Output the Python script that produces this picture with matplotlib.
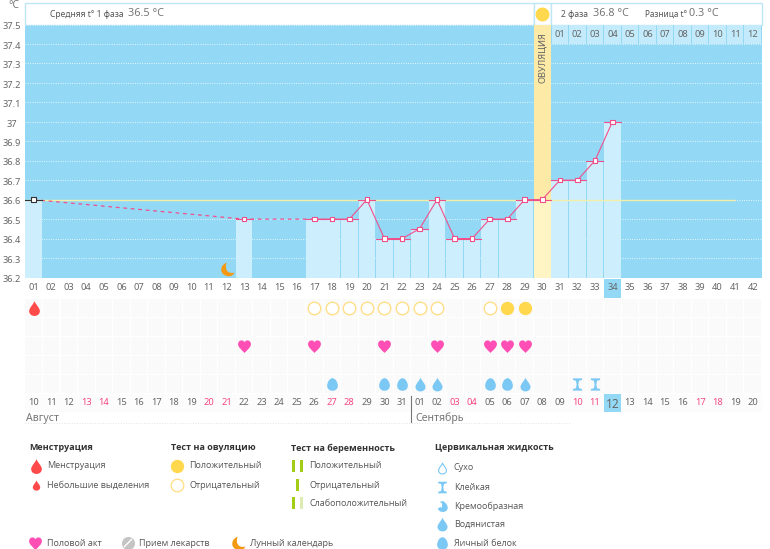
#!/usr/bin/env python3
"""Basal temperature chart with symptom rows and a legend."""

import matplotlib

matplotlib.use("Agg")
import matplotlib.pyplot as plt
from matplotlib.patches import Rectangle
from matplotlib.path import Path

W, H = 770, 549

temp_days = [1, 13, 17, 18, 19, 20, 21, 22, 23, 24, 25, 26, 27, 28, 29, 30, 31, 32, 33, 34]
temp_values = [36.6, 36.5, 36.5, 36.5, 36.5, 36.6, 36.4, 36.4, 36.45, 36.6, 36.4, 36.4,
               36.5, 36.5, 36.6, 36.6, 36.7, 36.7, 36.8, 37.0]
temp_ticks = [37.5, 37.4, 37.3, 37.2, 37.1, 37.0, 36.9, 36.8, 36.7, 36.6, 36.5, 36.4, 36.3, 36.2]
temp_tick_labels = ["37.5", "37.4", "37.3", "37.2", "37.1", "37", "36.9", "36.8", "36.7",
                    "36.6", "36.5", "36.4", "36.3", "36.2"]
cycle_labels = [f"{d:02d}" for d in range(1, 43)]
phase_labels = [f"{d:02d}" for d in range(1, 13)]
date_labels = ["10", "11", "12", "13", "14", "15", "16", "17", "18", "19", "20", "21", "22",
               "23", "24", "25", "26", "27", "28", "29", "30", "31", "01", "02", "03", "04",
               "05", "06", "07", "08", "09", "10", "11", "12", "13", "14", "15", "16", "17",
               "18", "19", "20"]
red_dates = [4, 5, 11, 12, 18, 19, 25, 26, 32, 33, 39, 40]
ovulation_day = 30
today = 34
moon_day = 12

menstruation_days = [1]
test_negative_days = [17, 18, 19, 20, 21, 22, 23, 24, 27]
test_positive_days = [28, 29]
intercourse_days = [13, 17, 21, 24, 27, 28, 29]
eggwhite_days = [18, 21, 22, 27, 28]
watery_days = [23, 24, 29]
sticky_days = [32, 33]

BLUE = "#93d9f6"
BAR = "#cdeefd"
BORDER = "#bfe6f7"
PINK = "#f0508a"
GREY = "#666666"
YELLOW = "#ffd84d"
YELLOW_EDGE = "#ffe08a"
DROP_BLUE = "#7cc8f5"
CHART_FONT = "Noto Sans"
LEGEND_FONT = "Open Sans"
TICK_SIZE = 6.7

C3, C4, L, M, Z = Path.CURVE3, Path.CURVE4, Path.LINETO, Path.MOVETO, Path.CLOSEPOLY

DROP = Path(
    [(0, 1), (0.1, 0.6), (0.72, 0.1), (0.72, -0.35), (0.72, -0.75), (0.38, -1), (0, -1),
     (-0.38, -1), (-0.72, -0.75), (-0.72, -0.35), (-0.72, 0.1), (-0.1, 0.6), (0, 1), (0, 1)],
    [M, C4, C4, C4, C4, C4, C4, C4, C4, C4, C4, C4, C4, Z],
)
HEART = Path(
    [(0, -1), (-0.5, -0.5), (-1, -0.1), (-1, 0.35), (-1, 0.8), (-0.7, 0.95), (-0.45, 0.95),
     (-0.2, 0.95), (0, 0.75), (0, 0.6), (0, 0.75), (0.2, 0.95), (0.45, 0.95), (0.7, 0.95),
     (1, 0.8), (1, 0.35), (1, -0.1), (0.5, -0.5), (0, -1), (0, -1)],
    [M, C4, C4, C4, C4, C4, C4, C4, C4, C4, C4, C4, C4, C4, C4, C4, C4, C4, C4, Z],
)
EGG = Path(
    [(0, 1), (0.5, 1), (0.85, 0.3), (0.85, -0.2), (0.85, -0.7), (0.45, -1), (0, -1),
     (-0.45, -1), (-0.85, -0.7), (-0.85, -0.2), (-0.85, 0.3), (-0.5, 1), (0, 1), (0, 1)],
    [M, C4, C4, C4, C4, C4, C4, C4, C4, C4, C4, C4, C4, Z],
)
HOURGLASS = Path(
    [(-0.75, 1), (0.75, 1), (0.75, 0.75), (0.25, 0.6), (0.14, 0), (0.25, -0.6), (0.75, -0.75),
     (0.75, -1), (-0.75, -1), (-0.75, -0.75), (-0.25, -0.6), (-0.14, 0), (-0.25, 0.6),
     (-0.75, 0.75), (-0.75, 1)],
    [M, L, L, L, L, L, L, L, L, L, L, L, L, L, Z],
)
MOON = Path(
    [(-0.1, 1), (-0.8, 0.8), (-1, 0.2), (-0.9, -0.25), (-0.75, -0.8), (-0.2, -1), (0.2, -1),
     (0.6, -1), (0.9, -0.8), (1, -0.45), (0.5, -0.6), (0.05, -0.45), (-0.15, -0.05),
     (-0.3, 0.35), (-0.25, 0.7), (-0.1, 1), (-0.1, 1)],
    [M, C4, C4, C4, C4, C4, C4, C4, C4, C4, C4, C4, C4, C4, C4, C4, Z],
)
CREAM = Path(
    [(0.1, 1), (0.7, 0.6), (0.95, 0.2), (0.95, -0.25), (0.95, -0.75), (0.5, -1), (0.05, -1),
     (-0.4, -1), (-0.75, -0.75), (-0.85, -0.35), (-0.4, -0.1), (0, -0.1), (-0.2, -0.5),
     (0.1, 0.3), (-0.2, 0.7), (-0.55, 0.85), (0.1, 1)],
    [M, C4, C4, C4, C4, C4, C4, C4, C4, C4, L, C3, C3, C3, C3, L, Z],
)


def px_axes(fig, left, top, right, bottom, **kwargs):
    return fig.add_axes([left / W, 1 - bottom / H, (right - left) / W, (bottom - top) / H], **kwargs)


def chart_text(ax, x, y, text, size=TICK_SIZE, color=GREY, ha="left", **kwargs):
    kwargs.setdefault("family", CHART_FONT)
    ax.text(x, y, text, fontsize=size, color=color, ha=ha, va="center", **kwargs)


def draw_frame(bg):
    left, split_a, split_b, right = 25, 533.5, 551, 761.5
    for x0, x1 in [(left, split_a), (split_a, split_b), (split_b, right)]:
        bg.add_patch(Rectangle((x0, 3), x1 - x0, 22, fc="white", ec=BORDER, lw=1))
    chart_text(bg, 50, 14.5, "Средняя t° 1 фаза", size=6.1, color="#555555")
    chart_text(bg, 128, 14, "36.5 °C", size=7.8, color="#777777")
    chart_text(bg, 561, 14.5, "2 фаза", size=6.1, color="#555555")
    chart_text(bg, 593, 14, "36.8 °C", size=7.8, color="#777777")
    chart_text(bg, 645, 14.5, "Разница t°", size=5.9, color="#555555")
    chart_text(bg, 689, 14, "0.3 °C", size=7.8, color="#777777")
    chart_text(bg, 14, 6, "°C", size=7.4, color="#777777", ha="center")
    bg.scatter([542], [14], s=100, color=YELLOW, lw=0)
    bg.add_patch(Rectangle((25, 394), 736.5, 18, fc="#fcfcfc", ec="none"))
    for top, bottom in [(279, 298), (394, 412)]:
        bg.add_patch(Rectangle((604, top), 17, bottom - top, fc=BLUE, ec="none"))
    chart_text(bg, 26, 418, "Август", size=7.6, color="#777777")
    chart_text(bg, 415, 418, "Сентябрь", size=7.6, color="#777777")
    bg.plot([411, 411], [396, 422], color="#777777", lw=0.8)
    bg.plot([25, 570], [423, 423], color="#e4e4e4", lw=0.7, ls=":")


def draw_temperature(ax):
    ax.set_facecolor(BLUE)
    ax.set_xlim(0.5, 42.5)
    ax.set_ylim(36.2, 37.5)
    for spine in ax.spines.values():
        spine.set_visible(False)
    ax.set_yticks(temp_ticks)
    ax.set_yticklabels([])
    ax.tick_params(axis="y", length=0)
    ax.tick_params(axis="x", length=0, pad=4, labelsize=TICK_SIZE, labelcolor=GREY)
    ax.set_xticks(range(1, 43))
    ax.set_xticklabels(cycle_labels, family=CHART_FONT)
    ax.grid(axis="y", color="white", lw=0.6, ls=(0, (1, 1.8)), zorder=1)
    ax.set_axisbelow(True)

    for value, label in zip(temp_ticks, temp_tick_labels):
        ax.annotate(label, (0.5, value), xytext=(-9.5, -1.6), textcoords="offset points",
                    annotation_clip=False, ha="center", va="center", fontsize=TICK_SIZE,
                    color=GREY, family=CHART_FONT)

    ax.bar(range(31, 43), 0.1, bottom=37.4, width=0.94, color="#c4ebfb", zorder=2)
    for day, label in zip(range(31, 43), phase_labels):
        ax.text(day, 37.45, label, ha="center", va="center", fontsize=TICK_SIZE, color=GREY,
                family=CHART_FONT, zorder=6)

    ax.bar(ovulation_day, 1.3, bottom=36.2, width=1.0, color="#fdeaa6", zorder=2)
    ax.text(ovulation_day, 37.33, "ОВУЛЯЦИЯ", rotation=90, ha="center", va="center",
            fontsize=TICK_SIZE, color=GREY, family=CHART_FONT, zorder=6)

    bar_colors = ["#fff5c4" if d == ovulation_day else BAR for d in temp_days]
    heights = [v - 36.2 for v in temp_values]
    ax.bar(temp_days, heights, bottom=36.2, width=0.95, color=bar_colors, zorder=2)

    ax.hlines(36.6, 0.5, 41, color="#f3efa8", lw=1, zorder=3)

    # dashed across the days with no reading, solid once readings are daily
    ax.plot(temp_days[:3], temp_values[:3], color=PINK, lw=0.9, ls=(0, (3, 3)), zorder=4)
    ax.plot(temp_days[2:], temp_values[2:], color=PINK, lw=0.8, zorder=4)
    seg_colors = ["#333333"] + [PINK] * (len(temp_days) - 1)
    for day, value, color in zip(temp_days, temp_values, seg_colors):
        ax.plot([day - 0.48, day + 0.48], [value, value], color=color, lw=0.8, zorder=4)
    ax.scatter(temp_days, temp_values, marker="s", s=11, facecolor="white",
               edgecolor=seg_colors, lw=0.8, zorder=5)
    ax.scatter([moon_day], [36.245], marker=MOON, s=95, color="#f39a12", lw=0, zorder=5)


def draw_rows(ax):
    ax.patch.set_alpha(0)
    ax.set_xlim(0.5, 42.5)
    ax.set_ylim(4.5, -0.5)
    for spine in ax.spines.values():
        spine.set_visible(False)
    ax.set_yticks([])
    ax.set_xticks(range(1, 43))
    ax.set_xticklabels(date_labels, family=CHART_FONT)
    ax.tick_params(axis="x", length=0, pad=3, labelsize=TICK_SIZE, labelcolor=GREY)
    for index, label in enumerate(ax.get_xticklabels(), start=1):
        if index in red_dates:
            label.set_color("#f5487f")
        if index == today:
            label.set_fontsize(8.6)

    for row in range(5):
        ax.bar(range(1, 43), 0.9, bottom=row - 0.45, width=0.94, color="#fafafa", zorder=1)

    def row_y(days, row):
        return [row] * len(days)

    ax.scatter(menstruation_days, row_y(menstruation_days, 0), marker=DROP, s=115,
               color="#ff4a4a", lw=0, zorder=3)
    ax.scatter(test_negative_days, row_y(test_negative_days, 0), s=82, facecolor="white",
               edgecolor=YELLOW_EDGE, lw=1, zorder=3)
    ax.scatter(test_positive_days, row_y(test_positive_days, 0), s=92, color=YELLOW, lw=0, zorder=3)
    ax.scatter(intercourse_days, row_y(intercourse_days, 2), marker=HEART, s=85,
               color="#ff4fb4", lw=0, zorder=3)
    ax.scatter(eggwhite_days, row_y(eggwhite_days, 4), marker=EGG, s=82, color=DROP_BLUE, lw=0, zorder=3)
    ax.scatter(watery_days, row_y(watery_days, 4), marker=DROP, s=100, color=DROP_BLUE, lw=0, zorder=3)
    ax.scatter(sticky_days, row_y(sticky_days, 4), marker=HOURGLASS, s=78, color=DROP_BLUE, lw=0, zorder=3)


def legend_text(bg, x, y, text, bold=False):
    bg.text(x, y, text, fontsize=6.45, family=LEGEND_FONT, va="center", ha="left",
            color="#333333" if bold else "#555555", fontweight="bold" if bold else "normal")


def test_strip(bg, x, y, color, height=12):
    bg.add_patch(Rectangle((x - 1.5, y - height / 2), 3, height, fc=color, ec="none"))


def draw_legend(bg):
    legend_text(bg, 29, 448, "Менструация", bold=True)
    bg.scatter([35.5], [466], marker=DROP, s=115, color="#ff4a4a", lw=0)
    legend_text(bg, 47, 466, "Менструация")
    bg.scatter([35.5], [485], marker=DROP, s=55, color="#ff4a4a", lw=0)
    legend_text(bg, 47, 485, "Небольшие выделения")

    legend_text(bg, 171, 448, "Тест на овуляцию", bold=True)
    bg.scatter([177], [466], s=92, color=YELLOW, lw=0)
    legend_text(bg, 189, 466, "Положительный")
    bg.scatter([177], [485], s=82, facecolor="white", edgecolor=YELLOW_EDGE, lw=1)
    legend_text(bg, 189, 485, "Отрицательный")

    legend_text(bg, 291, 448, "Тест на беременность", bold=True)
    test_strip(bg, 293.5, 466, "#a3cc14")
    test_strip(bg, 301.5, 466, "#a3cc14")
    legend_text(bg, 309, 466, "Положительный")
    test_strip(bg, 297.5, 485, "#a3cc14")
    legend_text(bg, 309, 485, "Отрицательный")
    test_strip(bg, 293.5, 503, "#a3cc14")
    test_strip(bg, 301.5, 503, "#dcebb0")
    legend_text(bg, 309, 503, "Слабоположительный")

    legend_text(bg, 435, 448, "Цервикальная жидкость", bold=True)
    bg.scatter([442], [468], marker=DROP, s=62, facecolor="white", edgecolor=DROP_BLUE, lw=0.8)
    legend_text(bg, 454, 468, "Сухо")
    bg.scatter([442], [487], marker=HOURGLASS, s=70, color=DROP_BLUE, lw=0)
    legend_text(bg, 454, 487, "Клейкая")
    bg.scatter([442], [506], marker=CREAM, s=62, color=DROP_BLUE, lw=0)
    legend_text(bg, 454, 506, "Кремообразная")
    bg.scatter([442], [524], marker=DROP, s=100, color=DROP_BLUE, lw=0)
    legend_text(bg, 454, 524, "Водянистая")
    bg.scatter([442], [543], marker=EGG, s=82, color=DROP_BLUE, lw=0)
    legend_text(bg, 454, 543, "Яичный белок")

    bg.scatter([35], [543], marker=HEART, s=85, color="#ff4fb4", lw=0)
    legend_text(bg, 47, 543, "Половой акт")
    bg.scatter([128], [543], s=88, color="#c4c4c4", lw=0)
    bg.plot([124.5, 131.5], [546.5, 539.5], color="white", lw=1)
    legend_text(bg, 139, 543, "Прием лекарств")
    bg.scatter([238], [543], marker=MOON, s=95, color="#f39a12", lw=0)
    legend_text(bg, 250, 543, "Лунный календарь")


def main():
    fig = plt.figure(figsize=(W / 100, H / 100), dpi=100, facecolor="white")
    bg = fig.add_axes([0, 0, 1, 1])
    bg.set_xlim(0, W)
    bg.set_ylim(H, 0)
    bg.axis("off")
    draw_frame(bg)
    draw_legend(bg)

    temp_ax = px_axes(fig, 24.9, 24.5, 761.5, 277.5)
    draw_temperature(temp_ax)
    rows_ax = px_axes(fig, 24.9, 298.5, 761.5, 393.5)
    draw_rows(rows_ax)

    fig.savefig("out.png", dpi=100)
    plt.close(fig)


if __name__ == "__main__":
    main()
